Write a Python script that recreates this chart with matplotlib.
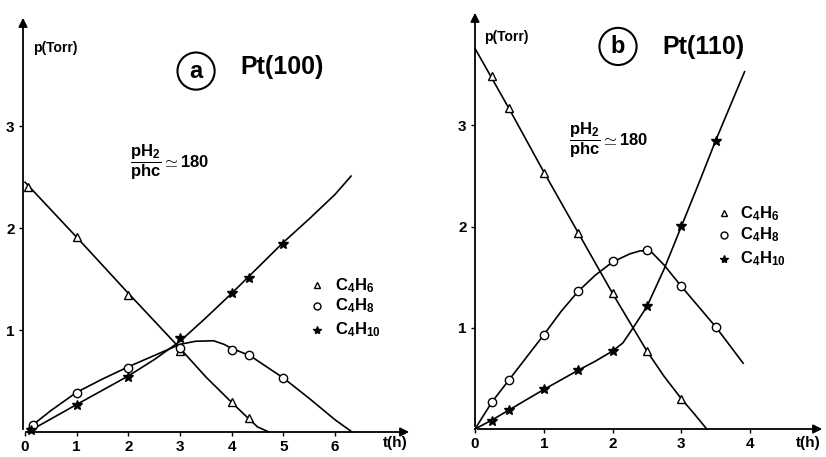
import numpy as np
import matplotlib
matplotlib.use("Agg")
import matplotlib.pyplot as plt

plt.rcParams['font.family'] = ['Liberation Sans', 'DejaVu Sans']
plt.rcParams['font.weight'] = 'bold'
plt.rcParams['mathtext.fontset'] = 'custom'
plt.rcParams['mathtext.rm'] = 'Liberation Sans:bold'
plt.rcParams['mathtext.bf'] = 'Liberation Sans:bold'
plt.rcParams['mathtext.it'] = 'Liberation Sans:bold'
plt.rcParams['mathtext.default'] = 'rm'

# ---- panel (a) Pt(100): measured points ----
a_c4h6_t = [0.05, 1, 2, 3, 4, 4.33]
a_c4h6_p = [2.40, 1.91, 1.34, 0.79, 0.29, 0.14]
a_c4h8_t = [0.15, 1, 2, 3, 4, 4.33, 5]
a_c4h8_p = [0.07, 0.38, 0.63, 0.82, 0.80, 0.76, 0.53]
a_c4h10_t = [0.12, 1, 2, 3, 4, 4.33, 5]
a_c4h10_p = [0.02, 0.26, 0.54, 0.92, 1.36, 1.51, 1.84]

# panel (a): drawn curves
a_c4h6_ct = [0, 1, 2, 3, 3.5, 4, 4.33, 4.5, 4.72]
a_c4h6_cp = [2.45, 1.91, 1.36, 0.82, 0.54, 0.29, 0.13, 0.05, 0.0]
a_c4h8_ct = [0.05, 0.5, 1, 1.5, 2, 2.5, 3, 3.3, 3.65, 3.85, 4.0, 4.35, 5.0, 5.5, 6.0, 6.33]
a_c4h8_cp = [0.03, 0.21, 0.39, 0.52, 0.64, 0.75, 0.86, 0.89, 0.895, 0.86, 0.82, 0.75, 0.53, 0.33, 0.12, 0.0]
a_c4h10_ct = [0.05, 1, 2, 2.5, 3, 3.5, 4, 4.5, 5, 5.5, 6.0, 6.31]
a_c4h10_cp = [0.0, 0.27, 0.55, 0.71, 0.89, 1.12, 1.36, 1.61, 1.86, 2.09, 2.33, 2.51]

# ---- panel (b) Pt(110): measured points ----
b_c4h6_t = [0.25, 0.5, 1, 1.5, 2, 2.5, 3]
b_c4h6_p = [3.49, 3.17, 2.53, 1.94, 1.34, 0.77, 0.30]
b_c4h8_t = [0.25, 0.5, 1, 1.5, 2, 2.5, 3, 3.5]
b_c4h8_p = [0.27, 0.48, 0.93, 1.36, 1.66, 1.77, 1.41, 1.01]
b_c4h10_t = [0.25, 0.5, 1, 1.5, 2, 2.5, 3, 3.5]
b_c4h10_p = [0.08, 0.19, 0.40, 0.58, 0.77, 1.22, 2.01, 2.85]

# panel (b): drawn curves
b_c4h6_ct = [0, 0.5, 1, 1.5, 2, 2.5, 2.75, 3.0, 3.2, 3.37]
b_c4h6_cp = [3.76, 3.16, 2.54, 1.94, 1.34, 0.77, 0.52, 0.30, 0.14, 0.0]
b_c4h8_ct = [0, 0.25, 0.5, 0.75, 1, 1.25, 1.5, 1.75, 2, 2.25, 2.4, 2.55, 2.75, 3, 3.25, 3.5, 3.9]
b_c4h8_cp = [0.0, 0.27, 0.49, 0.71, 0.93, 1.16, 1.36, 1.52, 1.65, 1.73, 1.76, 1.76, 1.62, 1.41, 1.21, 1.01, 0.65]
b_c4h10_ct = [0, 0.25, 0.5, 1, 1.5, 1.75, 2, 2.15, 2.3, 2.5, 2.75, 3, 3.25, 3.5, 3.92]
b_c4h10_cp = [0.0, 0.09, 0.19, 0.39, 0.58, 0.67, 0.77, 0.85, 1.0, 1.21, 1.58, 2.00, 2.42, 2.85, 3.53]

species = [r'C$_4$H$_6$', r'C$_4$H$_8$', r'C$_4$H$_{10}$']
W, H = 826, 457
fig = plt.figure(figsize=(W / 100, H / 100), dpi=100)


def make_axes(left, right, top, bottom, xlim, ylim):
    ax = fig.add_axes([left / W, 1 - bottom / H, (right - left) / W, (bottom - top) / H])
    ax.set_xlim(*xlim)
    ax.set_ylim(*ylim)
    for s in ax.spines.values():
        s.set_visible(False)
    ax.annotate('', xy=(0, 1), xytext=(0, 0), xycoords='axes fraction',
                arrowprops=dict(arrowstyle='-|>', color='black', lw=1.3, mutation_scale=13),
                annotation_clip=False)
    ax.annotate('', xy=(1, 0), xytext=(0, 0), xycoords='axes fraction',
                arrowprops=dict(arrowstyle='-|>', color='black', lw=1.3, mutation_scale=13),
                annotation_clip=False)
    ax.tick_params(direction='out', length=3, width=1, labelsize=11, pad=3)
    ax.set_yticks([1, 2, 3])
    ax.patch.set_alpha(0)
    return ax


def draw(ax, curves, points):
    for ct, cp in curves:
        ax.plot(ct, cp, color='black', lw=1.2, clip_on=False)
    (t6, p6), (t8, p8), (t10, p10) = points
    ax.plot(t6, p6, ls='none', marker='^', ms=6, mfc='white', mec='black', mew=1, clip_on=False)
    ax.plot(t8, p8, ls='none', marker='o', ms=6, mfc='white', mec='black', mew=1, clip_on=False)
    ax.plot(t10, p10, ls='none', marker='*', ms=7, mfc='black', mec='black', clip_on=False)


def legend(ax, mx, tx, ys):
    for m, y, lab in zip(['^', 'o', '*'], ys, species):
        if m == '*':
            ax.plot([mx], [y], marker=m, ms=6, color='black', clip_on=False)
        else:
            ax.plot([mx], [y], marker=m, ms=5, mfc='white', mec='black', clip_on=False)
        ax.text(tx, y, lab, fontsize=12, va='center', ha='left')


# panel a
axa = make_axes(23, 412, 15, 432, (-0.04, 7.49), (0, 4.09))
axa.set_xticks(range(0, 7))
draw(axa, [(a_c4h6_ct, a_c4h6_cp), (a_c4h8_ct, a_c4h8_cp), (a_c4h10_ct, a_c4h10_cp)],
     [(a_c4h6_t, a_c4h6_p), (a_c4h8_t, a_c4h8_p), (a_c4h10_t, a_c4h10_p)])
axa.text(0.15, 3.77, 'p(Torr)', fontsize=10, va='center')
axa.text(3.31, 3.54, 'a', fontsize=17, ha='center', va='center',
         bbox=dict(boxstyle='circle,pad=0.3', fc='white', ec='black', lw=1.5))
axa.text(4.16, 3.58, 'Pt(100)', fontsize=18, va='center')
axa.text(2.03, 2.64, r'$\dfrac{pH_2}{phc}\simeq 180$', fontsize=12, va='center')
legend(axa, 5.65, 6.0, [1.44, 1.24, 1.0])
axa.text(7.16, -0.11, 't(h)', fontsize=11, ha='center', va='center')

# panel b
axb = make_axes(475, 825, 10, 429, (0, 5.09), (0, 4.14))
axb.set_xticks(range(0, 5))
draw(axb, [(b_c4h6_ct, b_c4h6_cp), (b_c4h8_ct, b_c4h8_cp), (b_c4h10_ct, b_c4h10_cp)],
     [(b_c4h6_t, b_c4h6_p), (b_c4h8_t, b_c4h8_p), (b_c4h10_t, b_c4h10_p)])
axb.text(0.13, 3.87, 'p(Torr)', fontsize=10, va='center')
axb.text(2.08, 3.78, 'b', fontsize=17, ha='center', va='center',
         bbox=dict(boxstyle='circle,pad=0.3', fc='white', ec='black', lw=1.5))
axb.text(2.72, 3.77, 'Pt(110)', fontsize=18, va='center')
axb.text(1.37, 2.85, r'$\dfrac{pH_2}{phc}\simeq 180$', fontsize=12, va='center')
legend(axb, 3.62, 3.86, [2.13, 1.92, 1.68])
axb.text(4.85, -0.14, 't(h)', fontsize=11, ha='center', va='center')

fig.savefig('out.png', dpi=100)
